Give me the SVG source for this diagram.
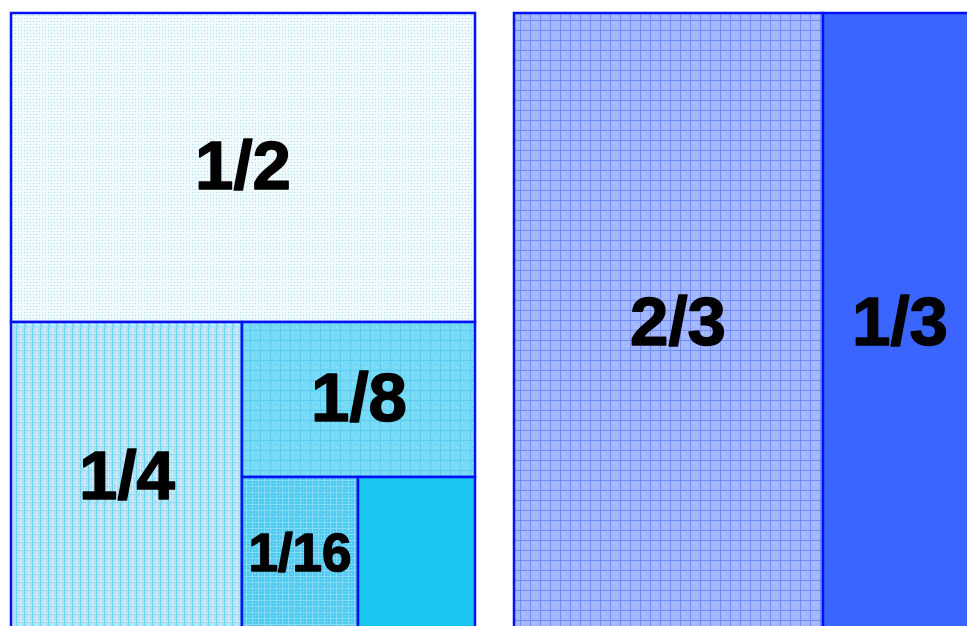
<svg xmlns="http://www.w3.org/2000/svg" width="967" height="626" viewBox="0 0 967 626">
<defs>
<pattern id="pHalf" width="6" height="6" patternUnits="userSpaceOnUse">
<rect width="6" height="6" fill="#f2fafe"/>
<rect x="0" y="0" width="1" height="1" fill="#8fdcf5"/>
<rect x="3" y="3" width="1" height="1" fill="#8fdcf5"/>
<rect x="3" y="0" width="1" height="1" fill="#bfeafa"/>
<rect x="0" y="3" width="1" height="1" fill="#bfeafa"/>
</pattern>
<pattern id="pQuarter" width="8" height="8" patternUnits="userSpaceOnUse">
<rect width="8" height="8" fill="#a8e3f7"/>
<rect x="0" y="0" width="1" height="8" fill="#6ad0f2"/>
<rect x="4" y="0" width="1" height="8" fill="#d8f3fc"/>
<rect x="2" y="2" width="1" height="1" fill="#ffffff"/>
<rect x="6" y="5" width="1" height="1" fill="#ffffff"/>
<rect x="0" y="6" width="8" height="1" fill="#8edcf5"/>
</pattern>
<pattern id="pEighth" width="10" height="10" patternUnits="userSpaceOnUse">
<rect width="10" height="10" fill="#76d9f5"/>
<rect x="2" y="3" width="1" height="1" fill="#a8e8fa"/>
<rect x="6" y="7" width="1" height="1" fill="#a8e8fa"/>
<rect x="0" y="0" width="10" height="1" fill="#58ccf1"/>
<rect x="0" y="0" width="1" height="10" fill="#58ccf1"/>
</pattern>
<pattern id="pSixteenth" width="6" height="6" patternUnits="userSpaceOnUse">
<rect width="6" height="6" fill="#52c9f1"/>
<rect x="0" y="0" width="6" height="1" fill="#86dbf6"/>
<rect x="0" y="0" width="1" height="6" fill="#86dbf6"/>
<rect x="3" y="3" width="1" height="1" fill="#a6e6f9"/>
</pattern>
<pattern id="pTwoThirds" width="10" height="10" patternUnits="userSpaceOnUse">
<rect width="10" height="10" fill="#a3b8fc"/>
<rect x="3" y="3" width="1" height="1" fill="#c0cefd"/>
<rect x="6" y="6" width="1" height="1" fill="#c0cefd"/>
<rect x="0" y="0" width="10" height="1" fill="#6e8df7"/>
<rect x="0" y="0" width="1" height="10" fill="#6e8df7"/>
</pattern>
</defs>
<style>
.cell{stroke:#0010f8;stroke-width:2.5}
.lbl{font-family:"Liberation Sans",Arial,sans-serif;font-weight:bold;fill:#000;stroke:#000;stroke-width:1.5;stroke-linejoin:round;text-anchor:middle}
</style>
<rect width="967" height="626" fill="#ffffff"/>
<g id="half"><rect class="cell" x="11" y="13" width="464" height="309" fill="url(#pHalf)"/><text class="lbl" x="243" y="189" font-size="69">1/2</text></g>
<g id="quarter"><rect class="cell" x="11" y="322" width="231" height="310" fill="url(#pQuarter)"/><text class="lbl" x="127" y="499" font-size="69">1/4</text></g>
<g id="eighth"><rect class="cell" x="242" y="322" width="233" height="155" fill="url(#pEighth)"/><text class="lbl" x="359" y="421" font-size="69">1/8</text></g>
<g id="sixteenth"><rect class="cell" x="242" y="477" width="116" height="155" fill="url(#pSixteenth)"/><text class="lbl" x="300" y="571" font-size="53">1/16</text></g>
<g id="rest"><rect class="cell" x="358" y="477" width="117" height="155" fill="#1ac6f2"/></g>
<g id="twothirds"><rect class="cell" x="514" y="13" width="309" height="620" fill="url(#pTwoThirds)"/><text class="lbl" x="678" y="345" font-size="69">2/3</text></g>
<g id="onethird"><rect class="cell" x="823" y="13" width="150" height="620" fill="#3a66ff"/><text class="lbl" x="900" y="345" font-size="69">1/3</text></g>
<g id="connectors"></g>
</svg>
